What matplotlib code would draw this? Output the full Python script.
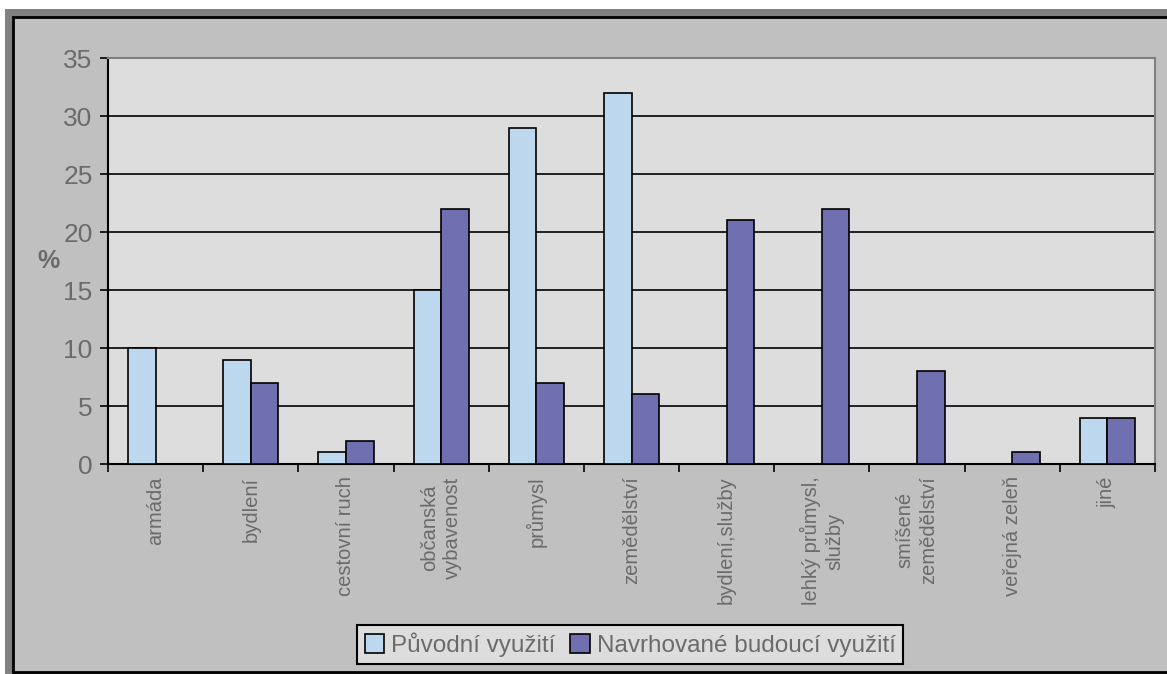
import numpy as np
import matplotlib
matplotlib.use("Agg")
import matplotlib.pyplot as plt
from matplotlib.patches import Rectangle

categories = [
    "armáda", "bydlení", "cestovní ruch", "občanská\nvybavenost", "průmysl",
    "zemědělství", "bydlení,služby", "lehký průmysl,\nslužby",
    "smíšené\nzemědělství", "veřejná zeleň", "jiné",
]
original_use = [10, 9, 1, 15, 29, 32, 0, 0, 0, 0, 4]
proposed_use = [0, 7, 2, 22, 7, 6, 21, 22, 8, 1, 4]
series_names = ["Původní využití", "Navrhované budoucí využití"]
y_ticks = [0, 5, 10, 15, 20, 25, 30, 35]

plt.rcParams["font.family"] = ["Liberation Sans", "DejaVu Sans"]
text_color = "#6b6b6b"

fig = plt.figure(figsize=(11.67, 6.74), dpi=100)
W, H = 1167, 674

# outer frame: dark gray strip, then light gray chart area with black border
fig.patches.append(Rectangle((5 / W, 0), 1, 1 - 9 / H, transform=fig.transFigure,
                             facecolor="#808080", edgecolor="none", zorder=-3))
fig.patches.append(Rectangle((13 / W, 2 / H), 1.0, 1 - 19 / H, transform=fig.transFigure,
                             facecolor="#c0c0c0", edgecolor="black", linewidth=2, zorder=-2))

ax = fig.add_axes([108 / W, 1 - 464 / H, (1155 - 108) / W, (464 - 58) / H])
ax.set_facecolor("#dddddd")

x = np.arange(len(categories))
w = 0.29
b1 = ax.bar(x - w / 2, original_use, w, color="#bdd7ee", edgecolor="black",
            linewidth=1.2, label=series_names[0], zorder=3)
b2 = ax.bar(x + w / 2, proposed_use, w, color="#7070b0", edgecolor="black",
            linewidth=1.2, label=series_names[1], zorder=3)

ax.set_xlim(-0.5, len(categories) - 0.5)
ax.set_ylim(0, 35)
ax.set_yticks(y_ticks)
ax.yaxis.grid(True, color="black", linewidth=1.2, zorder=1)
ax.set_axisbelow(True)

ax.set_xticks(x)
ax.set_xticklabels(categories, rotation=90, va="top", ha="center",
                   multialignment="center", fontsize=14.5, color=text_color,
                   linespacing=1.3)
ax.set_xticks(np.arange(-0.5, len(categories)), minor=True)
ax.tick_params(axis="x", which="major", length=0, pad=9)
ax.tick_params(axis="x", which="minor", length=6, width=1.2, direction="out")
ax.tick_params(axis="y", length=6, width=1.2, labelsize=19, labelcolor=text_color, pad=5)

for side in ["top", "right"]:
    ax.spines[side].set_color("#808080")
    ax.spines[side].set_linewidth(1.5)
for side in ["left", "bottom"]:
    ax.spines[side].set_color("black")
    ax.spines[side].set_linewidth(1.5)

ax.set_ylabel("%", rotation=0, fontsize=18, fontweight="bold", color=text_color,
              va="center", ha="center")
ax.yaxis.set_label_coords(-0.057, 0.5)

leg = fig.legend(handles=[b1, b2], loc="center", bbox_to_anchor=(0.540, 0.0438),
                 ncol=2, fontsize=17.5, frameon=True, fancybox=False,
                 edgecolor="black", facecolor="#dddddd", framealpha=1,
                 handlelength=0.8, handleheight=0.8, handletextpad=0.3,
                 columnspacing=0.6, borderpad=0.3)
leg.get_frame().set_linewidth(1.5)
for t in leg.get_texts():
    t.set_color(text_color)

fig.savefig("out.png", dpi=100, facecolor="white")
